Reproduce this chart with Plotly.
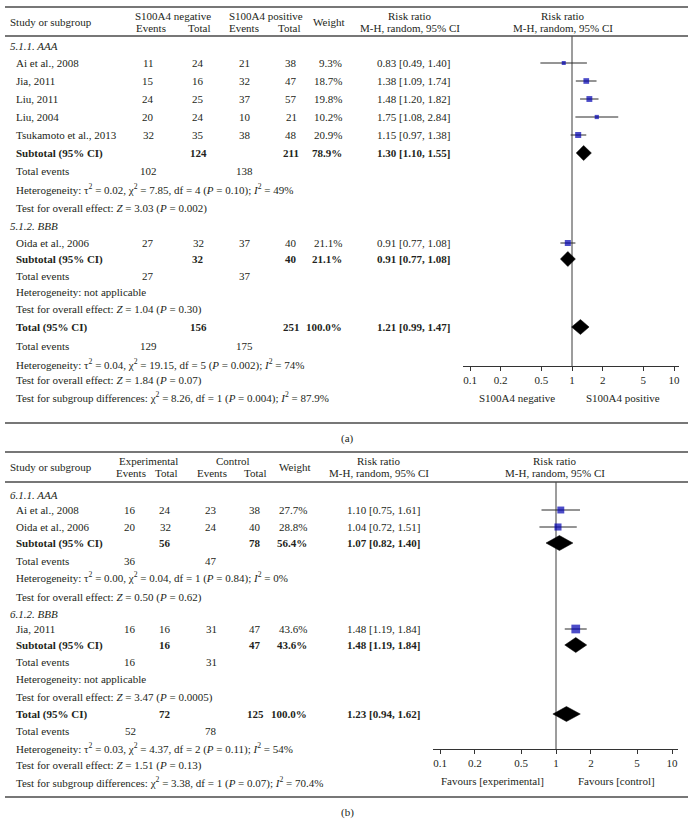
import plotly.graph_objects as go

W, H = 695, 822
FONT = "Liberation Serif"
TXT = "#231f20"
BLUE = "#0000b0"

# ---------------- data: panel (a) ----------------
a_g1_label = "5.1.1. AAA"
a_g1_names = ["Ai et al., 2008", "Jia, 2011", "Liu, 2011", "Liu, 2004", "Tsukamoto et al., 2013"]
a_g1_ev1 = [11, 15, 24, 20, 32]
a_g1_tot1 = [24, 16, 25, 24, 35]
a_g1_ev2 = [21, 32, 37, 10, 38]
a_g1_tot2 = [38, 47, 57, 21, 48]
a_g1_w = [9.3, 18.7, 19.8, 10.2, 20.9]
a_g1_rr = [0.83, 1.38, 1.48, 1.75, 1.15]
a_g1_lo = [0.49, 1.09, 1.20, 1.08, 0.97]
a_g1_hi = [1.40, 1.74, 1.82, 2.84, 1.38]
a_g1_sub = [124, 211, 78.9, 1.30, 1.10, 1.55]
a_g1_events = [102, 138]
a_g1_het = "Heterogeneity: τ<sup>2</sup> = 0.02, χ<sup>2</sup> = 7.85, df = 4 (<i>P</i> = 0.10); <i>I</i><sup>2</sup> = 49%"
a_g1_test = "Test for overall effect: <i>Z</i> = 3.03 (<i>P</i> = 0.002)"

a_g2_label = "5.1.2. BBB"
a_g2_names = ["Oida et al., 2006"]
a_g2_ev1 = [27]
a_g2_tot1 = [32]
a_g2_ev2 = [37]
a_g2_tot2 = [40]
a_g2_w = [21.1]
a_g2_rr = [0.91]
a_g2_lo = [0.77]
a_g2_hi = [1.08]
a_g2_sub = [32, 40, 21.1, 0.91, 0.77, 1.08]
a_g2_events = [27, 37]
a_g2_het = "Heterogeneity: not applicable"
a_g2_test = "Test for overall effect: <i>Z</i> = 1.04 (<i>P</i> = 0.30)"

a_total = [156, 251, 100.0, 1.21, 0.99, 1.47]
a_total_events = [129, 175]
a_total_het = "Heterogeneity: τ<sup>2</sup> = 0.04, χ<sup>2</sup> = 19.15, df = 5 (<i>P</i> = 0.002); <i>I</i><sup>2</sup> = 74%"
a_total_test = "Test for overall effect: <i>Z</i> = 1.84 (<i>P</i> = 0.07)"
a_subgroup = "Test for subgroup differences: χ<sup>2</sup> = 8.26, df = 1 (<i>P</i> = 0.004); <i>I</i><sup>2</sup> = 87.9%"
a_arm1, a_arm2 = "S100A4 negative", "S100A4 positive"
a_fav = ["S100A4 negative", "S100A4 positive"]

# ---------------- data: panel (b) ----------------
b_g1_label = "6.1.1. AAA"
b_g1_names = ["Ai et al., 2008", "Oida et al., 2006"]
b_g1_ev1 = [16, 20]
b_g1_tot1 = [24, 32]
b_g1_ev2 = [23, 24]
b_g1_tot2 = [38, 40]
b_g1_w = [27.7, 28.8]
b_g1_rr = [1.10, 1.04]
b_g1_lo = [0.75, 0.72]
b_g1_hi = [1.61, 1.51]
b_g1_sub = [56, 78, 56.4, 1.07, 0.82, 1.40]
b_g1_events = [36, 47]
b_g1_het = "Heterogeneity: τ<sup>2</sup> = 0.00, χ<sup>2</sup> = 0.04, df = 1 (<i>P</i> = 0.84); <i>I</i><sup>2</sup> = 0%"
b_g1_test = "Test for overall effect: <i>Z</i> = 0.50 (<i>P</i> = 0.62)"

b_g2_label = "6.1.2. BBB"
b_g2_names = ["Jia, 2011"]
b_g2_ev1 = [16]
b_g2_tot1 = [16]
b_g2_ev2 = [31]
b_g2_tot2 = [47]
b_g2_w = [43.6]
b_g2_rr = [1.48]
b_g2_lo = [1.19]
b_g2_hi = [1.84]
b_g2_sub = [16, 47, 43.6, 1.48, 1.19, 1.84]
b_g2_events = [16, 31]
b_g2_het = "Heterogeneity: not applicable"
b_g2_test = "Test for overall effect: <i>Z</i> = 3.47 (<i>P</i> = 0.0005)"

b_total = [72, 125, 100.0, 1.23, 0.94, 1.62]
b_total_events = [52, 78]
b_total_het = "Heterogeneity: τ<sup>2</sup> = 0.03, χ<sup>2</sup> = 4.37, df = 2 (<i>P</i> = 0.11); <i>I</i><sup>2</sup> = 54%"
b_total_test = "Test for overall effect: <i>Z</i> = 1.51 (<i>P</i> = 0.13)"
b_subgroup = "Test for subgroup differences: χ<sup>2</sup> = 3.38, df = 1 (<i>P</i> = 0.07); <i>I</i><sup>2</sup> = 70.4%"
b_arm1, b_arm2 = "Experimental", "Control"
b_fav = ["Favours [experimental]", "Favours [control]"]

tick_vals = [0.1, 0.2, 0.5, 1, 2, 5, 10]
tick_text = ["0.1", "0.2", "0.5", "1", "2", "5", "10"]

# ---------------- helpers ----------------
annotations = []
shapes = []
traces = []


def txt(x, y, s, anchor="left", size=11):
    annotations.append(dict(
        x=x / W, y=1 - y / H, xref="paper", yref="paper", text=s,
        showarrow=False, xanchor=anchor, yanchor="middle",
        font=dict(family=FONT, size=size, color=TXT)))


def hline(y, x0=5, x1=688, width=1.4, color="#4a4a4a"):
    shapes.append(dict(type="line", xref="paper", yref="paper",
                       x0=x0 / W, x1=x1 / W, y0=1 - y / H, y1=1 - y / H,
                       line=dict(color=color, width=width)))


def fmt_ci(v):
    return f"{v[3]:.2f} [{v[4]:.2f}, {v[5]:.2f}]"


def panel(P):
    xa, ya = P["xaxis"], P["yaxis"]
    C = P["cols"]
    hline(P["top"])
    hline(P["head_bottom"])
    y1, y2, ym = P["top"] + 9, P["top"] + 21, P["top"] + 15
    txt(8, ym, "Study or subgroup")
    txt(C["arm1"], y1, P["arm1"], "center")
    txt(C["arm2"], y1, P["arm2"], "center")
    txt(C["c1h"], y2, "Events", "center")
    txt(C["c2h"], y2, "Total", "center")
    txt(C["c3h"], y2, "Events", "center")
    txt(C["c4h"], y2, "Total", "center")
    txt(C["wh"], ym, "Weight", "center")
    txt(C["rrh"], y1, "Risk ratio", "center")
    txt(C["rrh"], y2, "M-H, random, 95% CI", "center")
    txt(C["ploth"], y1, "Risk ratio", "center")
    txt(C["ploth"], y2, "M-H, random, 95% CI", "center")

    ci_x, ci_y, sq_x, sq_y, sq_s = [], [], [], [], []
    diamonds = []
    R = P["rows"]
    for gi, g in enumerate(P["groups"]):
        rows = R["groups"][gi]
        txt(8, rows["label"], "<i>" + g["label"] + "</i>")
        for i, name in enumerate(g["names"]):
            y = rows["studies"][i]
            txt(14, y, name)
            txt(C["c1"], y, str(g["ev1"][i]), "center")
            txt(C["c2"], y, str(g["tot1"][i]), "center")
            txt(C["c3"], y, str(g["ev2"][i]), "center")
            txt(C["c4"], y, str(g["tot2"][i]), "center")
            txt(C["w"], y, f"{g['w'][i]:.1f}%", "right")
            txt(C["rr"], y, f"{g['rr'][i]:.2f} [{g['lo'][i]:.2f}, {g['hi'][i]:.2f}]")
            ci_x += [g["lo"][i], g["hi"][i], None]
            ci_y += [y, y, None]
            sq_x.append(g["rr"][i])
            sq_y.append(y)
            sq_s.append(1.32 * g["w"][i] ** 0.5)
        s = g["sub"]
        y = rows["sub"]
        txt(14, y, "<b>Subtotal (95% CI)</b>")
        txt(C["c2"], y, f"<b>{s[0]}</b>", "center")
        txt(C["c4"], y, f"<b>{s[1]}</b>", "center")
        txt(C["w"], y, f"<b>{s[2]:.1f}%</b>", "right")
        txt(C["rr"], y, "<b>" + fmt_ci(s) + "</b>")
        diamonds.append((s[3], s[4], s[5], y))
        y = rows["events"]
        txt(14, y, "Total events")
        txt(C["c1"], y, str(g["events"][0]), "center")
        txt(C["c3"], y, str(g["events"][1]), "center")
        txt(14, rows["het"], g["het"])
        txt(14, rows["test"], g["test"])
    t = P["total"]
    y = R["total"]
    txt(14, y, "<b>Total (95% CI)</b>")
    txt(C["c2"], y, f"<b>{t[0]}</b>", "center")
    txt(C["c4"], y, f"<b>{t[1]}</b>", "center")
    txt(C["w"], y, f"<b>{t[2]:.1f}%</b>", "right")
    txt(C["rr"], y, "<b>" + fmt_ci(t) + "</b>")
    diamonds.append((t[3], t[4], t[5], y))
    y = R["tevents"]
    txt(14, y, "Total events")
    txt(C["c1"], y, str(P["total_events"][0]), "center")
    txt(C["c3"], y, str(P["total_events"][1]), "center")
    txt(14, R["thet"], P["total_het"])
    txt(14, R["ttest"], P["total_test"])
    txt(14, R["tsub"], P["subgroup"])

    txt(C["fav1"], R["fav"], P["fav"][0], "center")
    txt(C["fav2"], R["fav"], P["fav"][1], "center")
    hline(P["bottom"])
    txt(347, P["caption_y"], P["caption"], "center")

    traces.append(go.Scatter(x=[1, 1], y=[P["head_bottom"], R["axis"]], mode="lines",
                             line=dict(color="#3a3a3a", width=1), xaxis=xa, yaxis=ya,
                             hoverinfo="skip"))
    traces.append(go.Scatter(x=ci_x, y=ci_y, mode="lines", line=dict(color="#2a2a2a", width=1),
                             xaxis=xa, yaxis=ya, hoverinfo="skip"))
    traces.append(go.Scatter(x=sq_x, y=sq_y, mode="markers",
                             marker=dict(symbol="square", size=sq_s, color=BLUE,
                                         line=dict(width=0)),
                             xaxis=xa, yaxis=ya))
    for est, lo, hi, y in diamonds:
        traces.append(go.Scatter(x=[lo, est, hi, est, lo], y=[y, y - 7.5, y, y + 7.5, y],
                                 mode="lines", fill="toself", fillcolor="black",
                                 line=dict(color="black", width=0.5), xaxis=xa, yaxis=ya,
                                 hoverinfo="skip"))


def group(label, names, ev1, tot1, ev2, tot2, w, rr, lo, hi, sub, events, het, test):
    return dict(label=label, names=names, ev1=ev1, tot1=tot1, ev2=ev2, tot2=tot2, w=w,
                rr=rr, lo=lo, hi=hi, sub=sub, events=events, het=het, test=test)


PA = dict(
    xaxis="x", yaxis="y", top=7, head_bottom=36, bottom=423, caption_y=438, caption="(a)",
    arm1=a_arm1, arm2=a_arm2, fav=a_fav,
    cols=dict(arm1=173, arm2=266, c1h=151, c2h=199, c3h=244, c4h=289, wh=329,
              c1=148, c2=198, c3=245, c4=291, w=344, rr=375, rrh=410, ploth=563,
              fav1=517, fav2=623),
    groups=[group(a_g1_label, a_g1_names, a_g1_ev1, a_g1_tot1, a_g1_ev2, a_g1_tot2, a_g1_w,
                  a_g1_rr, a_g1_lo, a_g1_hi, a_g1_sub, a_g1_events, a_g1_het, a_g1_test),
            group(a_g2_label, a_g2_names, a_g2_ev1, a_g2_tot1, a_g2_ev2, a_g2_tot2, a_g2_w,
                  a_g2_rr, a_g2_lo, a_g2_hi, a_g2_sub, a_g2_events, a_g2_het, a_g2_test)],
    total=a_total, total_events=a_total_events, total_het=a_total_het,
    total_test=a_total_test, subgroup=a_subgroup,
    rows=dict(groups=[dict(label=46, studies=[63, 81, 99, 117, 135], sub=153, events=171,
                           het=189, test=208),
                      dict(label=226, studies=[243], sub=259, events=276, het=292, test=309)],
              total=327, tevents=346, thet=365, ttest=381, tsub=397, axis=366, fav=398),
)

PB = dict(
    xaxis="x2", yaxis="y2", top=452, head_bottom=482, bottom=797, caption_y=812, caption="(b)",
    arm1=b_arm1, arm2=b_arm2, fav=b_fav,
    cols=dict(arm1=148, arm2=233, c1h=131, c2h=166, c3h=212, c4h=255, wh=295,
              c1=130, c2=165, c3=211, c4=255, w=309, rr=345, rrh=379, ploth=555,
              fav1=492, fav2=616),
    groups=[group(b_g1_label, b_g1_names, b_g1_ev1, b_g1_tot1, b_g1_ev2, b_g1_tot2, b_g1_w,
                  b_g1_rr, b_g1_lo, b_g1_hi, b_g1_sub, b_g1_events, b_g1_het, b_g1_test),
            group(b_g2_label, b_g2_names, b_g2_ev1, b_g2_tot1, b_g2_ev2, b_g2_tot2, b_g2_w,
                  b_g2_rr, b_g2_lo, b_g2_hi, b_g2_sub, b_g2_events, b_g2_het, b_g2_test)],
    total=b_total, total_events=b_total_events, total_het=b_total_het,
    total_test=b_total_test, subgroup=b_subgroup,
    rows=dict(groups=[dict(label=495, studies=[510, 527], sub=543, events=561, het=577,
                           test=597),
                      dict(label=614, studies=[629], sub=645, events=662, het=679, test=697)],
              total=714, tevents=731, thet=748, ttest=765, tsub=782, axis=749, fav=781),
)

panel(PA)
panel(PB)

fig = go.Figure(traces)


def xaxis_cfg(px0, px1, px_one, px_dec, axis_y):
    return dict(type="log", domain=[px0 / W, px1 / W],
                range=[(px0 - px_one) / px_dec, (px1 - px_one) / px_dec],
                anchor="free", position=1 - axis_y / H,
                showline=True, linecolor="#333", linewidth=1,
                ticks="outside", ticklen=4, tickwidth=1, tickcolor="#333",
                tickvals=tick_vals, ticktext=tick_text,
                tickfont=dict(family=FONT, size=11, color=TXT),
                showgrid=False, zeroline=False, fixedrange=True)


ycfg = dict(domain=[0, 1], range=[H, 0], visible=False, fixedrange=True)

fig.update_layout(
    width=W, height=H, margin=dict(l=0, r=0, t=0, b=0),
    paper_bgcolor="white", plot_bgcolor="rgba(0,0,0,0)", showlegend=False,
    xaxis=xaxis_cfg(463, 679, 572, 102, PA["rows"]["axis"]),
    xaxis2=xaxis_cfg(433, 678, 556, 116, PB["rows"]["axis"]),
    yaxis=ycfg,
    yaxis2=dict(ycfg, overlaying="y"),
    annotations=annotations, shapes=shapes,
    font=dict(family=FONT, size=11, color=TXT),
    hovermode=False,
)

fig.write_html("out.html", config={"displayModeBar": False, "staticPlot": True},
               post_script="document.body.style.margin='0';document.body.style.overflow='hidden';")
